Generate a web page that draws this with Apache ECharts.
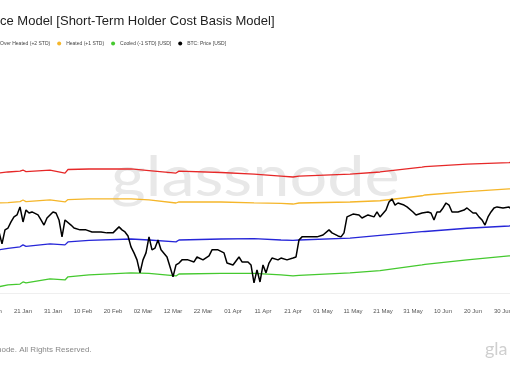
<!DOCTYPE html>
<html><head><meta charset="utf-8">
<script src="https://cdn.jsdelivr.net/npm/echarts@6.0.0/dist/echarts.min.js"></script>
<style>html,body{margin:0;padding:0;background:#fff;overflow:hidden}#c{width:510px;height:369px}</style>
</head><body><div id="c"></div>
<script>
const titleText = 'ce Model [Short-Term Holder Cost Basis Model]';
const legendNames = ['Over Heated (+2 STD)', 'Heated (+1 STD)', 'Cooled (-1 STD) [USD]', 'BTC: Price [USD]'];
const costBasisName = 'Short-Term Holder Cost Basis';
const footerText = 'node. All Rights Reserved.';
const watermarkText = 'glassnode';
const logoText = 'gla';
const monthNames = ['Jan','Feb','Mar','Apr','May','Jun','Jul','Aug','Sep','Oct','Nov','Dec'];

const priceDates = [
'2025-01-13','2025-01-14','2025-01-15','2025-01-16','2025-01-17','2025-01-18','2025-01-19','2025-01-20','2025-01-21','2025-01-22','2025-01-23','2025-01-24','2025-01-26','2025-01-27','2025-01-28','2025-01-29','2025-01-31',
'2025-02-01','2025-02-02','2025-02-03','2025-02-04','2025-02-06','2025-02-07','2025-02-09','2025-02-11','2025-02-13','2025-02-16','2025-02-18','2025-02-20','2025-02-22','2025-02-23','2025-02-24','2025-02-25','2025-02-26','2025-02-27','2025-02-28',
'2025-03-01','2025-03-02','2025-03-03','2025-03-04','2025-03-05','2025-03-06','2025-03-07','2025-03-08','2025-03-10','2025-03-11','2025-03-12','2025-03-13','2025-03-14','2025-03-15','2025-03-17','2025-03-19','2025-03-20','2025-03-22','2025-03-24','2025-03-25','2025-03-27','2025-03-29','2025-03-30',
'2025-04-01','2025-04-03','2025-04-04','2025-04-06','2025-04-07','2025-04-08','2025-04-09','2025-04-10','2025-04-11','2025-04-12','2025-04-13','2025-04-14','2025-04-16','2025-04-17','2025-04-19','2025-04-21','2025-04-22','2025-04-23','2025-04-24','2025-04-26','2025-04-28','2025-04-29',
'2025-05-01','2025-05-03','2025-05-04','2025-05-06','2025-05-07','2025-05-08','2025-05-09','2025-05-11','2025-05-13','2025-05-14','2025-05-16','2025-05-18','2025-05-19','2025-05-20','2025-05-22','2025-05-23','2025-05-24','2025-05-25','2025-05-26','2025-05-28','2025-05-29','2025-05-31',
'2025-06-01','2025-06-03','2025-06-05','2025-06-06','2025-06-07','2025-06-08','2025-06-09','2025-06-10','2025-06-11','2025-06-12','2025-06-13','2025-06-15','2025-06-17','2025-06-18','2025-06-20','2025-06-21','2025-06-22','2025-06-23','2025-06-24','2025-06-25','2025-06-26','2025-06-27','2025-06-28','2025-06-30',
'2025-07-02','2025-07-03'];
const priceValues = [
96300,91300,97200,98000,100700,103000,103900,107700,100700,106200,104800,105300,103900,101600,99300,102500,105300,
104800,101600,94200,101600,99300,98000,97200,97200,96300,96300,95900,95900,98500,97200,96300,94600,90100,87700,85000,
80200,85000,87700,94200,88900,89600,92900,88900,86100,82400,78800,83100,83800,85000,85000,84200,86100,85000,86500,88900,88900,87700,83800,
83100,86100,84200,84200,83100,76700,81300,77000,83100,80200,83800,85700,85000,85700,85000,85700,86100,92900,94200,94200,94200,94200,
95000,97200,95900,94600,94200,95900,103000,104300,103900,102500,103900,103000,105300,103000,106200,110100,111600,108600,109600,108600,107700,105300,
103900,104800,105300,104800,101600,105300,105300,107200,109600,108600,105300,105300,106200,107200,104800,104800,103000,101600,99300,103000,105300,107200,107700,107200,
107700,106200];

const bandDates = ['2025-01-13','2025-01-16','2025-01-20','2025-01-21','2025-01-22','2025-01-30','2025-02-04','2025-02-05','2025-02-12','2025-02-26','2025-03-04','2025-03-13','2025-03-14','2025-03-28','2025-04-08','2025-04-17','2025-04-21','2025-04-23','2025-05-10','2025-05-20','2025-06-03','2025-06-04','2025-06-18','2025-07-02','2025-07-03'];
const overHeated = [125300,125900,126400,127000,126100,127000,125300,127300,127600,127600,126700,125300,126400,125600,124700,123600,123100,123600,124700,125900,128700,129000,130400,131300,131400];
const heated = [109600,109800,110300,111100,110300,111100,110100,111300,111600,111600,111100,109600,110200,110100,109700,109400,109100,109600,110100,110700,113200,113600,115300,116700,116800];
const costBasis = [88900,89500,90100,90900,90300,91300,90900,92100,92700,93300,92900,92100,92900,93300,93500,92900,92700,92900,93700,94800,96400,96500,97900,98900,99000];
const cooled = [75400,76000,76300,77000,76700,78100,77700,78800,79500,80200,80000,79100,79800,80000,80000,79500,79100,79300,80200,81000,83100,83300,85000,86500,86600];

const BASE = Date.UTC(2025, 0, 1);
const DAY = 86400000;
function dayIdx(s) { return (Date.parse(s) - BASE) / DAY; }
function pairs(dates, vals) { return dates.map((d, i) => [dayIdx(d), vals[i]]); }
function fmt(v) {
  const d = new Date(BASE + v * DAY);
  const dd = d.getUTCDate();
  return (dd < 10 ? '0' : '') + dd + ' ' + monthNames[d.getUTCMonth()];
}

const chart = echarts.init(document.getElementById('c'), null, {renderer: 'canvas'});
const FONT = 'Liberation Sans';
const line = (name, dates, vals, color, w, z) => ({
  name, type: 'line', data: pairs(dates, vals), showSymbol: false, symbol: 'none',
  lineStyle: {color, width: w}, itemStyle: {color}, z, animation: false, clip: true
});

chart.setOption({
  animation: false,
  backgroundColor: '#fff',
  title: {
    text: titleText, left: 0, top: 15, padding: 0,
    textStyle: {fontFamily: FONT, fontSize: 13, fontWeight: 'normal', color: '#222'}
  },
  legend: {
    data: legendNames, left: -9, top: 41, padding: 0,
    icon: 'circle', itemWidth: 4, itemHeight: 4, itemGap: 7,
    textStyle: {fontFamily: FONT, fontSize: 5, color: '#444'}
  },
  grid: {left: -7, right: -23, top: 92, bottom: 76, containLabel: false, outerBoundsMode: 'none'},
  xAxis: {
    type: 'value', min: 10, max: 190, interval: 10,
    axisLine: {show: true, lineStyle: {color: '#efefef', width: 1}},
    axisTick: {show: false},
    splitLine: {show: false},
    axisLabel: {fontFamily: FONT, fontSize: 6, color: '#555', margin: 15, formatter: fmt}
  },
  yAxis: {
    type: 'log', logBase: 10, min: 73300, max: 180000, show: false,
    splitLine: {show: false}
  },
  graphic: [
    {type: 'text', z: -10, silent: true, x: 111, y: 150, scaleX: 1.19, scaleY: 1,
     style: {text: watermarkText, font: '400 56px Lato', fill: '#e8e8e8'}},
    {type: 'text', silent: true, x: -3, y: 346,
     style: {text: footerText, font: '8px "Liberation Sans"', fill: '#888'}},
    {type: 'text', silent: true, x: 485, y: 340,
     style: {text: logoText, font: '18px Lato', fill: '#cfcfcf'}}
  ],
  series: [
    line(costBasisName, bandDates, costBasis, '#2626d8', 1.3, 2),
    line(legendNames[0], bandDates, overHeated, '#e62828', 1.3, 2),
    line(legendNames[1], bandDates, heated, '#f5b62a', 1.3, 2),
    line(legendNames[2], bandDates, cooled, '#45c92f', 1.3, 2),
    line(legendNames[3], priceDates, priceValues, '#000000', 1.5, 3)
  ]
});
</script></body></html>
